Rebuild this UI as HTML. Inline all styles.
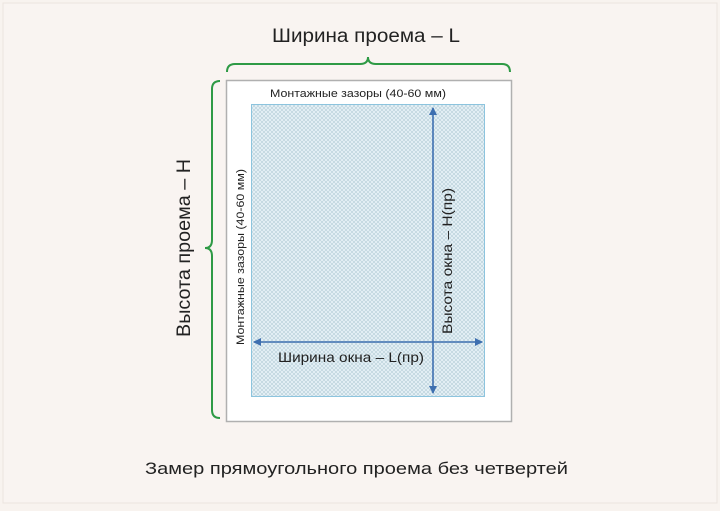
<!DOCTYPE html>
<html><head><meta charset="utf-8"><style>
body{margin:0;width:720px;height:506px;background:#f8f3ef;overflow:hidden}
</style></head><body>
<svg width="720" height="506" xmlns="http://www.w3.org/2000/svg" font-family="'Liberation Sans', sans-serif">
<defs>
<pattern id="h" width="4" height="4" patternUnits="userSpaceOnUse">
<rect width="4" height="4" fill="#e6f1f6"/>
<path d="M0 0L4 4M4 0L0 4" stroke="#b5cdd8" stroke-width="0.6"/>
</pattern>
<marker id="a" markerWidth="8" markerHeight="8" refX="7" refY="4" orient="auto-start-reverse" markerUnits="userSpaceOnUse">
<path d="M0 0L8 4L0 8z" fill="#3d6fb0"/></marker>
</defs>
<rect x="3" y="3" width="714" height="500" fill="#f9f4f1" stroke="#ebe4df"/>
<rect x="226.5" y="80.5" width="285" height="341" fill="#fff" stroke="#b0b0b0" stroke-width="1.5"/>
<rect x="251.5" y="104.5" width="233" height="292" fill="url(#h)" stroke="#8cc4de"/>
<line x1="433" y1="108" x2="433" y2="393" stroke="#3d6fb0" stroke-width="1.6" marker-start="url(#a)" marker-end="url(#a)"/>
<line x1="254" y1="342" x2="482" y2="342" stroke="#3d6fb0" stroke-width="1.6" marker-start="url(#a)" marker-end="url(#a)"/>
<path d="M227 72Q227 64 235 64L360 64Q368 64 368 57Q368 64 376 64L502 64Q510 64 510 72" fill="none" stroke="#2e9a45" stroke-width="2"/>
<path d="M220 81Q212 81 212 89L212 240Q212 248 205 248Q212 248 212 256L212 410Q212 418 220 418" fill="none" stroke="#2e9a45" stroke-width="2"/>
<text x="272" y="42" font-size="19" textLength="188" lengthAdjust="spacingAndGlyphs" fill="#222">Ширина проема – L</text>
<text transform="translate(190,337) rotate(-90)" font-size="19" textLength="178" lengthAdjust="spacingAndGlyphs" fill="#222">Высота проема – H</text>
<text x="270" y="97" font-size="11" textLength="176" lengthAdjust="spacingAndGlyphs" fill="#222">Монтажные зазоры (40-60 мм)</text>
<text transform="translate(244,345) rotate(-90)" font-size="11" textLength="176" lengthAdjust="spacingAndGlyphs" fill="#222">Монтажные зазоры (40-60 мм)</text>
<text transform="translate(452,334) rotate(-90)" font-size="14" textLength="146" lengthAdjust="spacingAndGlyphs" fill="#222">Высота окна – H(пр)</text>
<text x="278" y="362" font-size="14" textLength="146" lengthAdjust="spacingAndGlyphs" fill="#222">Ширина окна – L(пр)</text>
<text x="145" y="474" font-size="17" textLength="423" lengthAdjust="spacingAndGlyphs" fill="#222">Замер прямоугольного проема без четвертей</text>
</svg>
</body></html>
